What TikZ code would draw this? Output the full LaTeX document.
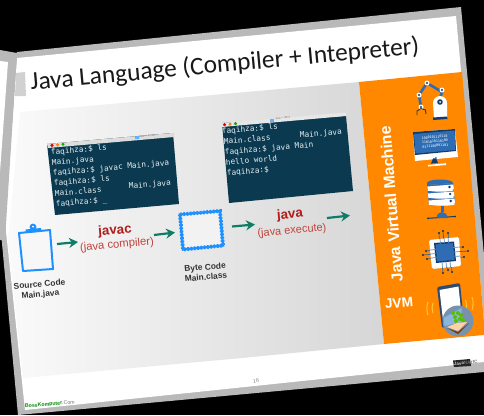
\documentclass[tikz,border=0pt]{standalone}
\usepackage{fontspec}
\usetikzlibrary{arrows.meta}
\setmainfont{Liberation Sans}
\newfontfamily\titlefont{Carlito}
\newfontfamily\termfont{DejaVu Sans Mono}
\definecolor{frameg}{HTML}{B9B9B9}
\definecolor{termbg}{HTML}{0B3A50}
\definecolor{termfg}{HTML}{E6EFF2}
\definecolor{bar}{HTML}{DDDDDD}
\definecolor{orng}{HTML}{FF8800}
\definecolor{iconblue}{HTML}{1E90FF}
\definecolor{teal2}{HTML}{0E7C66}
\definecolor{redb}{HTML}{B01C1C}
\definecolor{redl}{HTML}{C0443C}
\definecolor{navy}{HTML}{123A6B}
\definecolor{midblue}{HTML}{2E6DB4}
\tikzset{
  termtext/.style={anchor=base west,rotate=5,inner sep=0pt,text=termfg,font=\termfont\fontsize{7.75}{8}\selectfont},
  lab/.style={rotate=5,inner sep=0pt,align=center},
  caplab/.style={lab,text=black!80,font=\bfseries\fontsize{8.4}{10}\selectfont},
  flowarrow/.style={draw=teal2,line width=2.2pt,-{Stealth[length=9pt,width=10pt]}},
}
\begin{document}
\begin{tikzpicture}[x=1pt,y=-1pt]
\useasboundingbox (0,0) rectangle (484,415);
\fill[black] (0,0) rectangle (484,415);
% main slide
\fill[frameg] (17,52) -- (461,7) -- (484,255) -- (484,372) -- (18,415) -- (0,222) -- (0,100) -- cycle;
\fill[white] (17,58) -- (456,16) -- (484,322) -- (484,362) -- (25,410) -- (5,222) -- cycle;
% content panel
\shade[left color=white!98!black,right color=black!16] (20,112) -- (359,82) -- (384,344) -- (242,358) -- (23,378) -- (8,240) -- cycle;
% orange panel
\fill[orng] (359,82) -- (462,72) -- (484,322) -- (484,335) -- (384,344) -- cycle;
% left neighbouring slide
\fill[frameg] (0,50) -- (17,53) -- (5,240) -- (0,240) -- cycle;
\fill[white] (0,61) -- (8,62) -- (0,172) -- cycle;
% tab
\fill[black!18] (16,73) -- (25,72) -- (26,96) -- (15,96) -- cycle;
% title
\node[rotate=5.3,inner sep=0pt,anchor=base west,font=\titlefont\fontsize{25.4}{30}\selectfont,text=black!90] (titletext) at (31,90) {Java Language (Compiler + Intepreter)};
% terminal 1
\fill[termbg] (47,144) -- (173,133) -- (179,204) -- (55,215) -- cycle;
\fill[bar] (47,144) -- (173,133) -- (174,137) -- (48,148) -- cycle;
\fill[red!85!black] (52,145.3) circle (1.7);
\fill[orange] (57.6,144.8) circle (1.7);
\fill[green!70!black] (63,144.2) circle (1.7);
\fill[iconblue!70] (134.5,135.5) rectangle (138.5,139);
\node[rotate=5,inner sep=0pt,font=\fontsize{2.6}{3}\selectfont,text=black!60] (t1bar) at (147,136) {java — 41×10};
\node[termtext] (t1a) at (51,155) {faqihza:\$ ls};
\node[termtext] (t1b) at (52,165.3) {Main.java};
\node[termtext] (t1c) at (53,175.5) {faqihza:\$ javac Main.java};
\node[termtext] (t1d) at (54,186) {faqihza:\$ ls};
\node[termtext] (t1e) at (55,196.3) {Main.class};
\node[termtext] (t1f) at (129,189) {Main.java};
\node[termtext] (t1g) at (56,206.5) {faqihza:\$ \_};
% terminal 2
\fill[termbg] (222,123) -- (346,116) -- (353,191) -- (229,203) -- cycle;
\fill[bar!70!white] (222,123) -- (346,112.5) -- (346,116) -- (222,127) -- cycle;
\fill[red!85!black] (224.5,124.7) circle (1.7);
\fill[orange] (230,124.2) circle (1.7);
\fill[green!70!black] (235.5,123.6) circle (1.7);
\fill[iconblue!70] (270,118.5) rectangle (274,122);
\node[rotate=5,inner sep=0pt,font=\fontsize{2.6}{3}\selectfont,text=black!60] (t2bar) at (283,118) {java — 25×7};
\node[termtext] (t2a) at (222,134) {faqihza:\$ ls};
\node[termtext] (t2b) at (224,144.3) {Main.class};
\node[termtext] (t2c) at (300,138) {Main.java};
\node[termtext] (t2d) at (225,155) {faqihza:\$ java Main};
\node[termtext] (t2e) at (226,165.3) {hello world};
\node[termtext] (t2f) at (227,175.8) {faqihza:\$};
% clipboard
\draw[iconblue,line width=2pt,line join=round,fill=white!97!black] (19,233) -- (50,230) -- (53,269) -- (23,271) -- cycle;
\fill[iconblue] (26,233) -- (25.5,229.5) -- (41,228) -- (41.5,231.5) -- cycle;
\fill[iconblue] (33,227) circle (3.4);
\fill[white] (33,226.6) circle (1);
\node[caplab] (sourcelab) at (40,290) {Source Code\\Main.java};
% byte code stamp
\draw[iconblue,line width=2.4pt,fill=white!95!black] (180,214.5) -- (220,211) -- (223,245.5) -- (183,249.5) -- cycle;
\draw[iconblue,line width=3.8pt,dash pattern=on 1.8pt off 1.5pt] (180,214.5) -- (220,211) -- (223,245.5) -- (183,249.5) -- cycle;
\node[caplab] (bytelab) at (205.5,272) {Byte Code\\Main.class};
% flow labels
\node[lab,text=redb,font=\bfseries\fontsize{13.3}{15}\selectfont] (javac) at (115,231) {javac};
\node[lab,text=redl,font=\fontsize{11.3}{13}\selectfont] (javacsub) at (117,245) {(java compiler)};
\node[lab,text=redb,font=\bfseries\fontsize{13.3}{15}\selectfont] (java) at (290,215) {java};
\node[lab,text=redl,font=\fontsize{11}{13}\selectfont] (javasub) at (292,231) {(java execute)};
% arrows
\coordinate (a1s) at (57,244); \coordinate (a1e) at (78,242);
\coordinate (a2s) at (154,235); \coordinate (a2e) at (175,232.5);
\coordinate (a3s) at (232,226.5); \coordinate (a3e) at (255,224.5);
\coordinate (a4s) at (327,218); \coordinate (a4e) at (350,215.5);
\draw[flowarrow] (a1s) -- (a1e);
\draw[flowarrow] (a2s) -- (a2e);
\draw[flowarrow] (a3s) -- (a3e);
\draw[flowarrow] (a4s) -- (a4e);
% orange labels
\node[inner sep=0pt,rotate=94.5,text=white,font=\bfseries\fontsize{15.8}{18}\selectfont] (jvmfull) at (391,204) {Java Virtual Machine};
\node[lab,text=white,font=\bfseries\fontsize{13.7}{15}\selectfont] (jvm) at (399,303) {JVM};
% robot arm
\draw[midblue,line width=2.6pt,line join=round] (439,102) -- (442,92) -- (427,83) -- (419,95) -- (421,107);
\fill[white] (434,118) -- (433,103) arc (180:360:7) -- (447,117) -- cycle;
\fill[navy] (433,117.5) -- (447,116.5) -- (447.5,119) -- (433,120) -- cycle;
\fill[navy] (440,102) circle (2.8);
\fill[white] (440,102) circle (1);
\foreach \p in {(442,90),(427,83),(419,95),(421,107)} {\fill[white] \p circle (2.5); \fill[navy] \p circle (1.2);}
\draw[black!80,line width=0.9pt] (417,115) -- (417,111) -- (421,108.5) -- (425.5,110) -- (426,114);
% monitor
\fill[white] (413,132) -- (455,129) -- (458,157) -- (415,161) -- cycle;
\fill[navy] (413,132) -- (455,129) -- (456,151) -- (415,155) -- cycle;
\fill[midblue] (414,134) -- (454.5,130.5) -- (455.5,150) -- (415.5,153.5) -- cycle;
\node[rotate=5,inner sep=0pt,align=center,text=white,font=\termfont\fontsize{3.3}{4.4}\selectfont] (binary) at (435,141.5) {1000101110110\\1101010110100\\0111100001101};
\fill[navy] (433,158.5) -- (436,158.2) -- (438,163) -- (431,163.6) -- cycle;
\fill[white] (428,165) -- (446,163.2) -- (446,165) -- (428,166.5) -- cycle;
\fill[midblue] (435.8,158) circle (1);
% database
\fill[midblue] (427,185) -- (453,183) arc (0:-180:13 and 3.5) -- cycle;
\fill[midblue] (427,185) -- (453,183) -- (455,203) -- (429,205) -- cycle;
\foreach \yy/\xs in {0/0,7/0.6,14/1.2}{
  \fill[white] (427.3+\xs,186.5+\yy) -- (453.3+\xs,184.5+\yy) -- (453.8+\xs,189+\yy) -- (427.8+\xs,191+\yy) -- cycle;
  \fill[white] (440.8+\xs,190+\yy) ellipse (13 and 1.7);
  \fill[navy] (449.5+\xs,187+\yy) circle (1.3);
}
\draw[navy,line width=1pt] (428,218.3) -- (455,216.5);
\fill[midblue] (440.5,206) rectangle (444,212);
\fill[midblue] (436.5,218) arc (180:360:5.5 and 6) -- cycle;
\fill[navy] (428,218.3) circle (1); \fill[navy] (455,216.5) circle (1);
% chip
\draw[navy!80,line width=0.7pt] (439,233) -- (439.5,243) (443,231) -- (444,243) (448,233) -- (449,243)
  (423,255) -- (436,254) (426,251) -- (436,250) (427,259) -- (436,258)
  (463,247) -- (454,247.5) (468,251) -- (454,252) (464,257) -- (455,257.5)
  (443,273) -- (442,262) (448,270) -- (447,262) (452,272) -- (451,261);
\fill[white,rounded corners=1.5pt] (429,240) -- (459,237) -- (461,266) -- (432,269) -- cycle;
\fill[navy] (434,243) -- (454,241.5) -- (456,261) -- (436,263) -- cycle;
\fill[midblue] (435.5,244.5) -- (452.8,243) -- (454.6,259.7) -- (437.2,261.5) -- cycle;
\draw[midblue!80,line width=0.7pt] (440,238) -- (440.3,244) (444,238) -- (444.5,243) (448,237.5) -- (448.6,243)
  (430,250) -- (436,249.6) (430,254) -- (436,253.6) (431,258) -- (437,257.6)
  (453,247.5) -- (460,247) (454,252) -- (460,251.5) (454.5,256.5) -- (460.5,256)
  (442,262) -- (442.5,268) (446,261.5) -- (446.5,268) (450,261) -- (450.5,267);
\foreach \p in {(439,233),(443,231),(448,233),(423,255),(426,251),(427,259),(463,247),(468,251),(464,257),(443,273),(448,270),(452,272)} {\fill[navy!90!black] \p circle (1.1);}
% phone
\draw[orange!60!yellow!80!white,line width=1.1pt] (428,315) arc (160:200:19) (433,313) arc (160:200:15);
\draw[orange!60!yellow!80!white,line width=1.1pt] (472,297) arc (-20:20:19) (465.5,300) arc (-20:20:17);
\fill[navy!75!gray,rounded corners=2pt] (437,287) -- (460,283) -- (464,323) -- (442,328) -- cycle;
\fill[white] (439.5,290) -- (458.5,286.5) -- (461.5,315) -- (443,320) -- cycle;
\fill[midblue!50!gray!80!white] (458,321) circle (15.5);
\fill[iconblue!45!white,opacity=.6] (443.5,318) -- (461.5,308) -- (462,322) -- (444.5,326) -- cycle;
\foreach \p in {(455,317),(458,313),(461,315),(453,313),(460,319),(456,321),(463,320)} {\fill[green!55!yellow!75!black] \p circle (2);}
\fill[orange!35!white] (447,327) -- (457,323) -- (467,322) -- (458,331) -- cycle;
\fill[black!55!orange] (447,328) -- (458,332) -- (469,323) -- (458,334) -- cycle;
% footer
\node[inner sep=0pt,rotate=5,text=black!45,font=\fontsize{5.5}{6}\selectfont] (pagenum) at (256,381) {16};
\node[inner sep=0pt,rotate=5,anchor=base west,font=\fontsize{5.2}{6}\selectfont] (bkc) at (25,408) {\textcolor{green!55!black}{\bfseries BossKomputer}\textcolor{black!55}{.Com}};
\fill[black!85] (453,360.5) -- (470,359) -- (471,366) -- (454,367) -- cycle;
\node[inner sep=0pt,rotate=5,anchor=base west,text=black!55,font=\bfseries\fontsize{4.5}{5}\selectfont] (logo) at (454,365.5) {\textcolor{white!80!black}{Java}NATIC};
\end{tikzpicture}
\end{document}
